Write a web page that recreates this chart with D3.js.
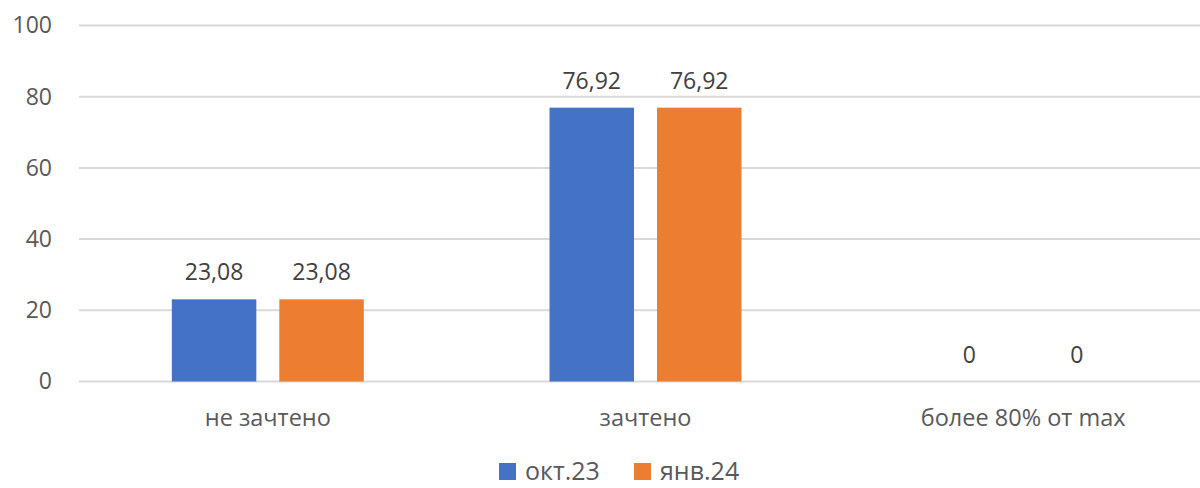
<!DOCTYPE html>
<html>
<head>
<meta charset="utf-8">
<script src="https://cdn.jsdelivr.net/npm/d3@7"></script>
<style>
    body { margin: 0; background: #fff; }
    text { font-family: "Open Sans", sans-serif; }
</style>
</head>
<body>
<svg id="chart" width="1200" height="488"></svg>
<script>
var categories = ["не зачтено", "зачтено", "более 80% от max"];
var series = ["окт.23", "янв.24"];
var values = {
    "окт.23": [23.08, 76.92, 0],
    "янв.24": [23.08, 76.92, 0]
};
var y_ticks = [0, 20, 40, 60, 80, 100];
var colors = ["#4472C4", "#ED7D31"];

var svg = d3.select("#chart");

var x0 = d3.scaleBand()
    .domain(categories)
    .range([79, 1212])
    .paddingInner(0.4917)
    .paddingOuter(0.2458);

var x1 = d3.scaleBand()
    .domain(series)
    .range([0, x0.bandwidth()])
    .paddingInner(0.214);

var y = d3.scaleLinear()
    .domain([0, 100])
    .range([381.5, 25.5]);

var color = d3.scaleOrdinal().domain(series).range(colors);

// gridlines
svg.append("g")
    .selectAll("line")
    .data(y_ticks)
    .enter().append("line")
    .attr("x1", 79)
    .attr("x2", 1212)
    .attr("y1", function(d) { return y(d); })
    .attr("y2", function(d) { return y(d); })
    .attr("stroke", "#d9d9d9")
    .attr("stroke-width", 2);

// y axis labels
var y_axis = svg.append("g")
    .attr("transform", "translate(52,0)")
    .call(d3.axisLeft(y).tickValues(y_ticks).tickSize(0).tickPadding(0));
y_axis.select(".domain").remove();
y_axis.selectAll("text")
    .attr("font-size", 23)
    .attr("fill", "#595959")
    .attr("font-family", "Open Sans, sans-serif");

// bars
var rows = [];
categories.forEach(function(c, i) {
    series.forEach(function(s) {
        rows.push({category: c, series: s, value: values[s][i]});
    });
});

var group = svg.append("g");

group.selectAll("rect")
    .data(rows)
    .enter().append("rect")
    .attr("x", function(d) { return x0(d.category) + x1(d.series); })
    .attr("y", function(d) { return y(d.value); })
    .attr("width", x1.bandwidth())
    .attr("height", function(d) { return y(0) - y(d.value); })
    .attr("fill", function(d) { return color(d.series); });

group.selectAll("text")
    .data(rows)
    .enter().append("text")
    .attr("x", function(d) { return x0(d.category) + x1(d.series) + x1.bandwidth() / 2; })
    .attr("y", function(d) { return y(d.value) - 19; })
    .attr("text-anchor", "middle")
    .attr("font-size", 23)
    .attr("fill", "#404040")
    .text(function(d) { return d3.format(".2f")(d.value).replace(".", ",").replace(/,00$/, ""); });

// category labels
var x_axis = svg.append("g")
    .attr("transform", "translate(0,381.5)")
    .call(d3.axisBottom(x0).tickSize(0).tickPadding(0));
x_axis.select(".domain").remove();
x_axis.selectAll("text")
    .attr("dy", null)
    .attr("y", 44)
    .attr("font-size", 23.5)
    .attr("fill", "#595959")
    .attr("font-family", "Open Sans, sans-serif");

// legend
var legend_x = [499, 634];
var legend = svg.append("g")
    .selectAll("g")
    .data(series)
    .enter().append("g")
    .attr("transform", function(d, i) { return "translate(" + legend_x[i] + ",463)"; });

legend.append("rect")
    .attr("width", 17)
    .attr("height", 17)
    .attr("fill", function(d) { return color(d); });

legend.append("text")
    .attr("x", 26)
    .attr("y", 17)
    .attr("font-size", 25)
    .attr("fill", "#595959")
    .text(function(d) { return d; });
</script>
</body>
</html>
